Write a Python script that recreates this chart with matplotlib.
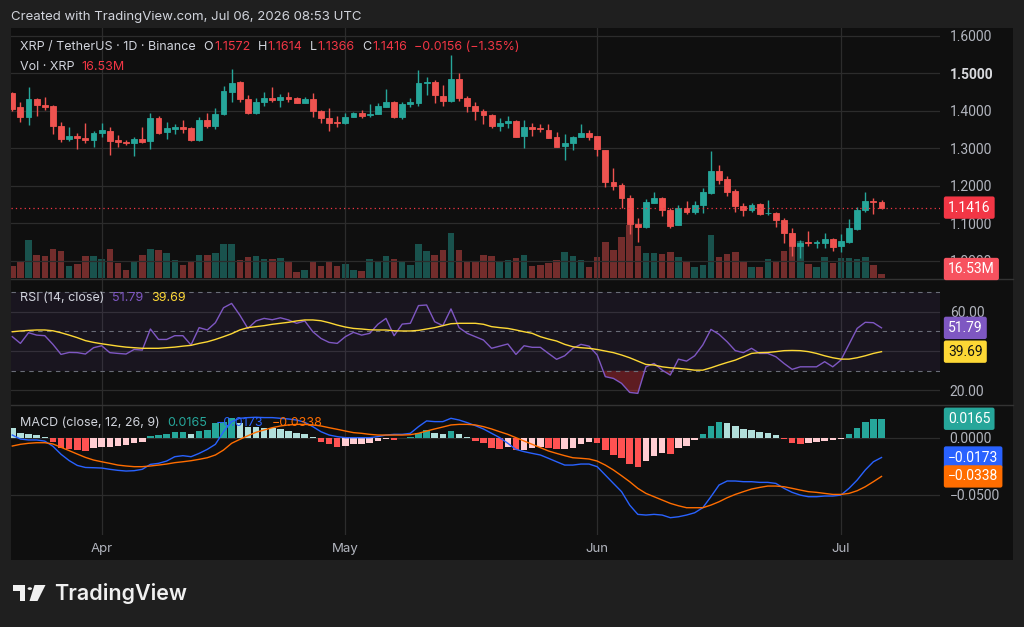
import numpy as np
import pandas as pd
import matplotlib
matplotlib.use('Agg')
import matplotlib.pyplot as plt
import matplotlib.transforms as mtransforms
from matplotlib.patches import Rectangle, Polygon, Circle
from matplotlib.lines import Line2D

plt.rcParams['font.family'] = ['Inter', 'DejaVu Sans']

# daily XRP/USDT candles, 21 Mar -> 6 Jul 2026
start_date = '2026-03-21'
opens = [1.446, 1.409, 1.384, 1.431, 1.415, 1.413, 1.359, 1.324, 1.333, 1.328,
         1.322, 1.341, 1.347, 1.322, 1.317, 1.313, 1.325, 1.319, 1.380, 1.344,
         1.350, 1.356, 1.355, 1.322, 1.375, 1.359, 1.391, 1.451, 1.477, 1.431,
         1.393, 1.424, 1.433, 1.429, 1.437, 1.433, 1.421, 1.430, 1.399, 1.380,
         1.371, 1.366, 1.382, 1.393, 1.389, 1.391, 1.411, 1.424, 1.384, 1.418,
         1.420, 1.473, 1.477, 1.439, 1.426, 1.485, 1.433, 1.413, 1.400, 1.389,
         1.359, 1.366, 1.373, 1.333, 1.357, 1.355, 1.349, 1.329, 1.306, 1.315,
         1.329, 1.340, 1.333, 1.295, 1.211, 1.201, 1.168, 1.097, 1.091, 1.155,
         1.166, 1.135, 1.095, 1.141, 1.131, 1.149, 1.181, 1.238, 1.217, 1.187,
         1.146, 1.134, 1.150, 1.126, 1.128, 1.109, 1.073, 1.039, 1.049, 1.046,
         1.046, 1.057, 1.039, 1.051, 1.084, 1.135, 1.159, 1.1572]
highs = [1.451, 1.424, 1.464, 1.433, 1.437, 1.415, 1.371, 1.357, 1.341, 1.366,
         1.347, 1.366, 1.357, 1.335, 1.322, 1.331, 1.356, 1.393, 1.386, 1.371,
         1.364, 1.375, 1.357, 1.382, 1.393, 1.406, 1.466, 1.510, 1.480, 1.442,
         1.433, 1.451, 1.462, 1.445, 1.451, 1.437, 1.436, 1.448, 1.402, 1.406,
         1.386, 1.393, 1.397, 1.402, 1.418, 1.421, 1.457, 1.427, 1.424, 1.435,
         1.508, 1.491, 1.482, 1.469, 1.549, 1.500, 1.439, 1.424, 1.404, 1.391,
         1.380, 1.386, 1.375, 1.375, 1.368, 1.365, 1.365, 1.344, 1.337, 1.333,
         1.364, 1.349, 1.333, 1.295, 1.247, 1.208, 1.174, 1.113, 1.164, 1.184,
         1.170, 1.140, 1.149, 1.158, 1.160, 1.193, 1.293, 1.255, 1.226, 1.190,
         1.153, 1.153, 1.153, 1.162, 1.131, 1.113, 1.086, 1.055, 1.078, 1.055,
         1.075, 1.060, 1.071, 1.110, 1.142, 1.182, 1.166, 1.1614]
lows = [1.400, 1.371, 1.362, 1.386, 1.402, 1.338, 1.317, 1.320, 1.297, 1.315,
        1.304, 1.331, 1.282, 1.302, 1.308, 1.280, 1.313, 1.297, 1.339, 1.324,
        1.338, 1.341, 1.320, 1.320, 1.353, 1.350, 1.388, 1.424, 1.424, 1.391,
        1.391, 1.413, 1.424, 1.409, 1.424, 1.420, 1.420, 1.382, 1.368, 1.346,
        1.357, 1.364, 1.382, 1.380, 1.384, 1.391, 1.409, 1.380, 1.377, 1.411,
        1.413, 1.442, 1.420, 1.413, 1.424, 1.427, 1.397, 1.374, 1.364, 1.353,
        1.347, 1.353, 1.329, 1.301, 1.333, 1.344, 1.326, 1.302, 1.269, 1.295,
        1.329, 1.322, 1.279, 1.196, 1.189, 1.140, 1.071, 1.051, 1.088, 1.153,
        1.119, 1.088, 1.095, 1.125, 1.124, 1.126, 1.178, 1.205, 1.173, 1.131,
        1.119, 1.131, 1.122, 1.122, 1.091, 1.046, 1.013, 1.006, 1.040, 1.033,
        1.033, 1.027, 1.022, 1.046, 1.082, 1.131, 1.125, 1.1366]
closes = [1.404, 1.382, 1.431, 1.415, 1.411, 1.359, 1.324, 1.333, 1.326, 1.322,
          1.340, 1.349, 1.320, 1.317, 1.313, 1.325, 1.317, 1.380, 1.341, 1.355,
          1.357, 1.352, 1.322, 1.375, 1.359, 1.391, 1.453, 1.475, 1.430, 1.393,
          1.424, 1.433, 1.428, 1.437, 1.431, 1.421, 1.431, 1.399, 1.380, 1.366,
          1.368, 1.384, 1.393, 1.386, 1.390, 1.413, 1.424, 1.384, 1.418, 1.424,
          1.473, 1.477, 1.442, 1.427, 1.485, 1.433, 1.413, 1.399, 1.389, 1.359,
          1.366, 1.373, 1.331, 1.357, 1.350, 1.350, 1.328, 1.304, 1.313, 1.329,
          1.340, 1.331, 1.297, 1.211, 1.199, 1.166, 1.097, 1.091, 1.156, 1.166,
          1.135, 1.093, 1.141, 1.131, 1.149, 1.184, 1.238, 1.215, 1.184, 1.146,
          1.134, 1.149, 1.124, 1.128, 1.109, 1.073, 1.039, 1.046, 1.046, 1.051,
          1.058, 1.037, 1.053, 1.086, 1.135, 1.158, 1.1572, 1.1416]
# volume in millions of XRP
volumes = [51, 71, 155, 96, 89, 119, 109, 51, 57, 89,
           92, 79, 120, 62, 31, 71, 96, 119, 113, 103,
           73, 53, 68, 96, 96, 103, 141, 141, 75, 85,
           89, 79, 78, 83, 64, 26, 31, 70, 51, 70,
           48, 57, 31, 27, 78, 64, 89, 78, 64, 55,
           141, 109, 96, 113, 185, 113, 68, 64, 96, 92,
           64, 73, 82, 93, 51, 53, 62, 73, 105, 92,
           75, 44, 85, 148, 113, 167, 219, 130, 103, 103,
           100, 105, 86, 71, 44, 52, 177, 86, 99, 105,
           71, 44, 45, 78, 71, 109, 127, 151, 57, 44,
           86, 62, 82, 82, 78, 85, 52, 16.53]
rsi = [47.3, 43.9, 49.3, 48.1, 47.8, 43.4, 38.3, 39.3, 39.2, 38.5,
       41.7, 42.7, 39.2, 38.8, 38.5, 40.8, 40.5, 51.2, 45.9, 45.9,
       47.8, 47.8, 43.1, 51.9, 50.7, 54.4, 62.0, 64.2, 58.3, 51.5,
       55.3, 56.6, 55.9, 56.9, 55.8, 54.1, 55.3, 49.8, 46.4, 44.4,
       43.9, 47.3, 49.5, 48.1, 49.0, 53.6, 56.6, 47.8, 53.7, 54.1,
       63.1, 63.4, 54.9, 52.9, 61.4, 51.9, 49.0, 47.3, 45.6, 41.4,
       42.5, 43.6, 38.3, 42.7, 41.9, 41.9, 38.8, 35.8, 37.6, 41.4,
       43.4, 42.5, 38.0, 27.0, 26.1, 23.6, 19.0, 18.5, 32.0, 33.7,
       30.3, 27.8, 35.9, 34.9, 37.6, 43.1, 51.0, 48.5, 44.7, 40.2,
       39.2, 41.4, 38.8, 38.8, 37.1, 33.7, 30.7, 32.0, 32.0, 32.0,
       34.6, 32.0, 35.4, 43.4, 51.5, 54.6, 54.4, 51.79]
rsi_ma = [49.8, 50.2, 50.5, 50.7, 50.7, 50.3, 49.3, 48.1, 46.8, 45.3,
          44.4, 43.7, 43.1, 42.5, 42.0, 41.7, 41.4, 41.4, 41.4, 41.7,
          42.0, 42.5, 42.9, 43.9, 44.7, 45.9, 47.3, 48.8, 50.7, 51.9,
          52.4, 52.9, 53.6, 54.1, 54.6, 55.3, 55.8, 55.8, 55.4, 54.4,
          53.2, 52.2, 51.5, 51.2, 50.8, 50.7, 50.7, 50.3, 50.2, 50.2,
          50.5, 51.2, 51.9, 52.9, 53.9, 54.1, 54.1, 54.1, 53.6, 52.4,
          51.9, 51.5, 50.7, 49.8, 49.0, 47.3, 46.1, 45.1, 43.4, 42.2,
          41.7, 41.4, 40.8, 40.0, 39.2, 38.0, 36.6, 34.9, 33.2, 32.9,
          32.0, 31.5, 31.2, 30.8, 30.3, 30.3, 31.5, 32.9, 34.2, 35.4,
          37.1, 38.8, 39.2, 39.3, 39.7, 40.2, 40.3, 40.2, 39.7, 38.8,
          37.6, 36.6, 35.9, 35.9, 36.6, 37.6, 38.8, 39.69]
macd = [0.0023, -0.0012, -0.0020, -0.0020, -0.0030, -0.0075, -0.0145, -0.0200, -0.0242, -0.0260,
        -0.0262, -0.0265, -0.0276, -0.0285, -0.0291, -0.0288, -0.0276, -0.0233, -0.0224, -0.0204,
        -0.0166, -0.0157, -0.0166, -0.0137, -0.0102, -0.0058, 0.0052, 0.0140, 0.0169, 0.0175,
        0.0178, 0.0175, 0.0175, 0.0169, 0.0163, 0.0154, 0.0134, 0.0096, 0.0052, 0.0023,
        0.0009, 0.0, 0.0, 0.0, 0.0, 0.0009, 0.0023, 0.0029, 0.0029, 0.0038,
        0.0096, 0.0146, 0.0140, 0.0140, 0.0169, 0.0154, 0.0131, 0.0105, 0.0076, 0.0038,
        0.0, -0.0049, -0.0102, -0.0122, -0.0137, -0.0151, -0.0180, -0.0210, -0.0239, -0.0239,
        -0.0230, -0.0230, -0.0253, -0.0326, -0.0399, -0.0471, -0.0588, -0.0669, -0.0675, -0.0669,
        -0.0675, -0.0698, -0.0690, -0.0675, -0.0655, -0.0611, -0.0515, -0.0413, -0.0378, -0.0378,
        -0.0384, -0.0384, -0.0390, -0.0390, -0.0399, -0.0442, -0.0477, -0.0501, -0.0515, -0.0515,
        -0.0509, -0.0509, -0.0501, -0.0442, -0.0370, -0.0282, -0.0210, -0.0173]
signal = [-0.0073, -0.0058, -0.0049, -0.0044, -0.0044, -0.0055, -0.0084, -0.0113, -0.0143, -0.0172,
          -0.0195, -0.0210, -0.0224, -0.0239, -0.0247, -0.0253, -0.0253, -0.0247, -0.0239, -0.0230,
          -0.0218, -0.0210, -0.0201, -0.0189, -0.0175, -0.0151, -0.0108, -0.0049, -0.0015, 0.0017,
          0.0047, 0.0067, 0.0087, 0.0102, 0.0111, 0.0116, 0.0116, 0.0111, 0.0102, 0.0087,
          0.0073, 0.0058, 0.0044, 0.0038, 0.0029, 0.0023, 0.0023, 0.0023, 0.0023, 0.0026,
          0.0038, 0.0058, 0.0076, 0.0093, 0.0111, 0.0116, 0.0116, 0.0111, 0.0096, 0.0076,
          0.0052, 0.0029, 0.0, -0.0029, -0.0058, -0.0087, -0.0116, -0.0137, -0.0157, -0.0175,
          -0.0180, -0.0186, -0.0204, -0.0239, -0.0282, -0.0332, -0.0384, -0.0442, -0.0486, -0.0515,
          -0.0544, -0.0573, -0.0594, -0.0611, -0.0611, -0.0611, -0.0588, -0.0559, -0.0524, -0.0495,
          -0.0471, -0.0448, -0.0434, -0.0422, -0.0422, -0.0428, -0.0442, -0.0457, -0.0471, -0.0477,
          -0.0486, -0.0495, -0.0495, -0.0486, -0.0463, -0.0428, -0.0384, -0.0338]
hist = [0.0087, 0.0038, 0.0032, 0.0023, 0.0009, -0.0041, -0.0087, -0.0099, -0.0108, -0.0113,
        -0.0093, -0.0079, -0.0079, -0.0070, -0.0064, -0.0047, -0.0035, 0.0015, 0.0023, 0.0032,
        0.0047, 0.0052, 0.0035, 0.0061, 0.0067, 0.0125, 0.0140, 0.0169, 0.0125, 0.0096,
        0.0096, 0.0081, 0.0081, 0.0076, 0.0058, 0.0044, 0.0032, 0.0006, -0.0035, -0.0055,
        -0.0079, -0.0070, -0.0058, -0.0055, -0.0044, -0.0026, -0.0012, -0.0020, -0.0006, 0.0009,
        0.0038, 0.0067, 0.0045, 0.0029, 0.0058, 0.0032, 0.0009, -0.0029, -0.0049, -0.0087,
        -0.0099, -0.0079, -0.0108, -0.0108, -0.0093, -0.0079, -0.0093, -0.0102, -0.0099, -0.0087,
        -0.0058, -0.0035, -0.0049, -0.0108, -0.0151, -0.0181, -0.0233, -0.0253, -0.0204, -0.0160,
        -0.0137, -0.0143, -0.0093, -0.0070, -0.0020, 0.0032, 0.0105, 0.0134, 0.0131, 0.0102,
        0.0076, 0.0067, 0.0047, 0.0038, 0.0023, -0.0012, -0.0049, -0.0058, -0.0044, -0.0035,
        -0.0026, -0.0020, -0.0009, 0.0029, 0.0087, 0.0140, 0.0160, 0.0165]

price_ticks = [1.0, 1.1, 1.2, 1.3, 1.4, 1.5, 1.6]
rsi_ticks = [20, 40, 60]
rsi_levels = [30, 50, 70]
macd_ticks = [-0.05, 0.0]

UP, DOWN = '#26a69a', '#ef5350'
RED = '#f23645'
PURPLE, YELLOW = '#7e57c2', '#fdd835'
BLUE, ORANGE = '#2962ff', '#ff6d00'
GRID = '#2c2c2c'
TXT = '#d1d4dc'
AX_TXT = '#b2b5be'
AXFONT = ['Roboto', 'DejaVu Sans']

W, H = 1024, 627


def fx(px):
    return px / W


def fy(py):
    return 1 - py / H


def mstr(v, nd=4):
    return f"{v:.{nd}f}".replace('-', '\u2212')


dates = pd.date_range(start_date, periods=len(closes), freq='D')
x = np.arange(len(closes))
month_idx = np.where(dates.day == 1)[0]

fig = plt.figure(figsize=(W / 100, H / 100), dpi=100, facecolor='#1f1f1f')
fig.patches.append(Rectangle((fx(11), fy(560)), fx(1013) - fx(11), fy(28) - fy(560),
                             transform=fig.transFigure, facecolor='#0f0f0f',
                             edgecolor='none', zorder=-10))


def style_y(a):
    a.yaxis.tick_right()
    a.tick_params(axis='y', length=0, colors=AX_TXT, labelsize=10, pad=7,
                  labelright=True, labelleft=False)
    for lab in a.get_yticklabels():
        lab.set_family(AXFONT)


def pane(top, bottom):
    a = fig.add_axes([fx(11), fy(bottom), fx(940) - fx(11), fy(top) - fy(bottom)])
    a.set_facecolor('none')
    for s in a.spines.values():
        s.set_visible(False)
    a.set_xlim(-0.16, 114.2)
    a.tick_params(axis='x', length=0, labelbottom=False)
    a.set_xticks(month_idx)
    a.grid(True, color=GRID, lw=0.9)
    a.set_axisbelow(True)
    return a


# price + volume (volume on a hidden twin axis drawn underneath)
ax = pane(28, 279)
vax = ax.twinx()
vax.set_zorder(ax.get_zorder() - 1)
vax.axis('off')
vax.set_ylim(-4, 1025)
colors = [UP if c >= o else DOWN for o, c in zip(opens, closes)]
vax.bar(x, volumes, width=0.8, color=colors, alpha=0.45, lw=0)

ax.vlines(x, lows, highs, colors=colors, lw=1)
ax.bar(x, np.array(closes) - np.array(opens), bottom=opens, width=0.72,
       color=colors, edgecolor=colors, lw=0.6)
ax.axhline(closes[-1], color=RED, lw=0.9, ls=(0, (1, 2.5)))
ax.set_ylim(0.9512, 1.6205)
ax.set_yticks(price_ticks)
ax.set_yticklabels([f"{t:.4f}" for t in price_ticks])
style_y(ax)
for lab, t in zip(ax.get_yticklabels(), price_ticks):
    if t == 1.5:
        lab.set_fontweight('bold')
        lab.set_color('#d8d9dd')

# RSI
rax = pane(279, 405)
rax.set_ylim(12.6, 76.6)
rax.set_yticks(rsi_ticks)
rax.set_yticklabels(['20.00', '', '60.00'])
style_y(rax)
rax.axhspan(rsi_levels[0], rsi_levels[-1], color=PURPLE, alpha=0.09, lw=0)
for lvl in rsi_levels:
    rax.axhline(lvl, color='#6a6d78', lw=0.8, ls=(0, (4, 4)))
rsi_a = np.array(rsi)
rax.fill_between(x, rsi_a, 30, where=rsi_a < 30, interpolate=True,
                 color=RED, alpha=0.35, lw=0)
rax.plot(x, rsi, color=PURPLE, lw=1)
rax.plot(x, rsi_ma, color=YELLOW, lw=1)

# MACD
max_ = pane(405, 535)
max_.set_ylim(-0.0849, 0.0285)
max_.set_yticks(macd_ticks)
max_.set_yticklabels([mstr(t) for t in macd_ticks])
style_y(max_)
hcol = []
for i, h in enumerate(hist):
    prev = hist[i - 1] if i > 0 else h
    if h >= 0:
        hcol.append('#26a69a' if h > prev else '#b2dfdb')
    else:
        hcol.append('#ff5252' if h < prev else '#ffcdd2')
max_.bar(x, hist, width=0.8, color=hcol, lw=0)
max_.plot(x, macd, color=BLUE, lw=1)
max_.plot(x, signal, color=ORANGE, lw=1)
max_.set_xticklabels([d.strftime('%b') for d in dates[month_idx]])
max_.tick_params(axis='x', labelbottom=True, colors=AX_TXT, labelsize=9.5, pad=6)

# pane separators
for yy in (279, 405):
    fig.add_artist(Line2D([fx(11), fx(1013)], [fy(yy), fy(yy)], color='#333333', lw=1))

BOX = dict(boxstyle='round,pad=0.3,rounding_size=0.15', ec='none')


def badge(a, y, s, bg, fg='white'):
    tr = mtransforms.blended_transform_factory(fig.transFigure, a.transData)
    a.text(fx(948), y, s, transform=tr, color=fg, fontsize=10, family=AXFONT,
           va='center', ha='left', clip_on=False, zorder=10, bbox=dict(BOX, fc=bg))


badge(ax, closes[-1], f"{closes[-1]:.4f}", RED)
# volume badge sits over the partly hidden 1.0000 label, as in the original
fig.text(fx(948), fy(269), f"{volumes[-1]:.2f}M", color='white', fontsize=10, family=AXFONT,
         va='center', ha='left', zorder=10, bbox=dict(BOX, fc='#f7525f'))
badge(rax, rsi[-1], f"{rsi[-1]:.2f}", PURPLE)
badge(rax, rsi_ma[-1], f"{rsi_ma[-1]:.2f}", YELLOW, fg='#131313')
badge(max_, hist[-1], mstr(hist[-1]), '#26a69a')
badge(max_, macd[-1], mstr(macd[-1]), BLUE)
badge(max_, signal[-1], mstr(signal[-1]), ORANGE)

renderer = fig.canvas.get_renderer()


def text_run(x0, y0, pieces, size=9):
    xx = x0
    for s, c, gap in pieces:
        t = fig.text(fx(xx), fy(y0), s, color=c, fontsize=size, va='center', ha='left', zorder=6)
        xx += t.get_window_extent(renderer).width + gap


fig.text(fx(11), fy(17), "Created with TradingView.com, Jul 06, 2026 08:53 UTC",
         color=TXT, fontsize=9.5, va='center')
chg = closes[-1] - closes[-2]
pct = chg / closes[-2] * 100
text_run(20, 47, [("XRP / TetherUS \u00b7 1D \u00b7 Binance", TXT, 8),
                  ("O", TXT, 1), (f"{opens[-1]:.4f}", RED, 7),
                  ("H", TXT, 1), (f"{highs[-1]:.4f}", RED, 7),
                  ("L", TXT, 1), (f"{lows[-1]:.4f}", RED, 7),
                  ("C", TXT, 1), (f"{closes[-1]:.4f}", RED, 7),
                  (f"{mstr(chg)} ({mstr(pct, 2)}%)", RED, 0)])
text_run(20, 67, [("Vol \u00b7 XRP", TXT, 7), (f"{volumes[-1]:.2f}M", RED, 0)])
text_run(20, 298, [("RSI (14, close)", TXT, 8), (f"{rsi[-1]:.2f}", PURPLE, 8),
                   (f"{rsi_ma[-1]:.2f}", YELLOW, 0)])
text_run(20, 423, [("MACD (close, 12, 26, 9)", TXT, 8), (mstr(hist[-1]), '#26a69a', 8),
                   (mstr(macd[-1]), BLUE, 8), (mstr(signal[-1]), ORANGE, 0)])

# TradingView logo
tf = fig.transFigure
logo = [Polygon([(fx(12.5), fy(585)), (fx(25), fy(585)), (fx(25), fy(601)), (fx(19.5), fy(601)),
                 (fx(19.5), fy(590.5)), (fx(12.5), fy(590.5))], closed=True, transform=tf),
        Circle((fx(29.8), fy(588.6)), 2.2 / W, transform=tf),
        Polygon([(fx(34.5), fy(585)), (fx(45.5), fy(585)), (fx(37.5), fy(601)), (fx(29.5), fy(601))],
                closed=True, transform=tf)]
for p in logo:
    p.set_facecolor('#f0f0f0')
    p.set_edgecolor('none')
    fig.patches.append(p)
fig.text(fx(54), fy(593.5), "TradingView", color='#f0f0f0', fontsize=15.5, fontweight='semibold',
         va='center')

fig.savefig('out.png', dpi=100, facecolor=fig.get_facecolor())
